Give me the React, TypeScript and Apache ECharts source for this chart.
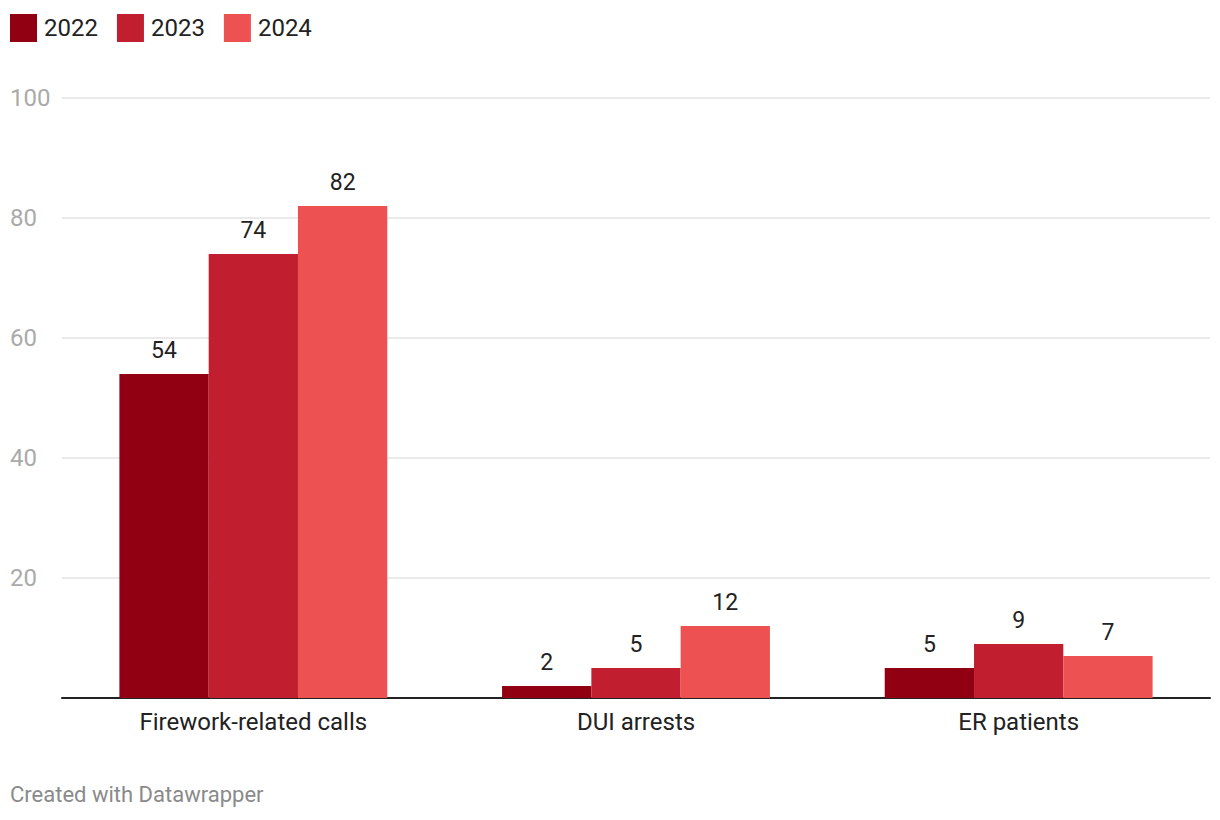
import React, { useEffect, useRef } from "react";
import * as echarts from "echarts";

const categories = ["Firework-related calls", "DUI arrests", "ER patients"];
const seriesNames = ["2022", "2023", "2024"];
const values2022 = [54, 2, 5];
const values2023 = [74, 5, 9];
const values2024 = [82, 12, 7];
const colors = ["#910012", "#c11f2f", "#ee5151"];
const yTicks = [0, 20, 40, 60, 80, 100];

export default function App() {
  const ref = useRef<HTMLDivElement>(null);
  useEffect(() => {
    document.body.style.margin = "0";
    const chart = echarts.init(ref.current!, null, { renderer: "svg" });
    const font = "Roboto, 'Noto Sans', sans-serif";
    const data = [values2022, values2023, values2024];
    chart.setOption({
      animation: false,
      textStyle: { fontFamily: font },
      legend: {
        left: 10,
        top: 14,
        padding: 0,
        icon: "rect",
        itemWidth: 27,
        itemHeight: 28,
        itemGap: 19,
        textStyle: { fontSize: 24, color: "#222", fontFamily: font, padding: [0, 0, 0, 2] },
        data: seriesNames,
      },
      grid: { left: 62, right: 10, top: 98, bottom: 122 },
      xAxis: {
        type: "category",
        data: categories,
        axisLine: { show: true, lineStyle: { color: "#222", width: 2 } },
        axisTick: { show: false },
        axisLabel: { fontSize: 24, color: "#222", margin: 12, fontFamily: font },
      },
      yAxis: {
        type: "value",
        min: yTicks[0],
        max: yTicks[yTicks.length - 1],
        interval: 20,
        axisLine: { show: false },
        axisTick: { show: false },
        splitLine: { lineStyle: { color: "#e3e3e3", width: 1.5 } },
        axisLabel: {
          fontSize: 24,
          color: "#aaa",
          align: "left",
          margin: 52,
          fontFamily: font,
          formatter: (v: number) => (v === 0 ? "" : String(v)),
        },
      },
      series: seriesNames.map((name, i) => ({
        name,
        type: "bar",
        data: data[i],
        barGap: "0%",
        barCategoryGap: "30%",
        itemStyle: { color: colors[i] },
        label: {
          show: true,
          position: "top",
          distance: 12,
          fontSize: 23,
          color: "#222",
          fontFamily: font,
        },
      })),
      graphic: [
        {
          type: "text",
          left: 10,
          top: 783,
          style: { text: "Created with Datawrapper", fontSize: 22, fill: "#8a8a8a", fontFamily: font },
        },
      ],
    });
    return () => chart.dispose();
  }, []);
  return <div ref={ref} style={{ width: 1220, height: 820 }} />;
}
